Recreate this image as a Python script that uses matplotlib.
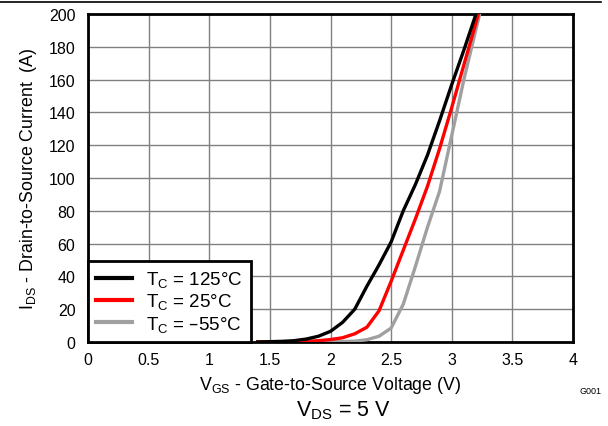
import numpy as np
import matplotlib
matplotlib.use("Agg")
import matplotlib.pyplot as plt
from matplotlib.lines import Line2D

plt.rcParams['font.family'] = ['Liberation Sans', 'DejaVu Sans']
plt.rcParams['mathtext.default'] = 'regular'

# Transfer characteristics, VDS = 5 V
vgs_125 = [1.4, 1.5, 1.6, 1.7, 1.8, 1.9, 2.0, 2.1, 2.2, 2.3, 2.4, 2.5, 2.6, 2.7, 2.8, 2.9, 3.0, 3.1, 3.2]
ids_125 = [0, 0.2, 0.4, 0.8, 1.8, 3.5, 6.5, 12, 20, 34, 47, 61, 80, 96, 114, 135, 157, 178, 200]

vgs_25 = [1.4, 1.6, 1.7, 1.8, 1.9, 2.0, 2.1, 2.2, 2.3, 2.4, 2.5, 2.6, 2.7, 2.8, 2.9, 3.0, 3.1, 3.22]
ids_25 = [0, 0.1, 0.2, 0.4, 0.8, 1.5, 2.6, 5, 9, 19, 37, 56, 75, 95, 118, 143, 169, 200]

vgs_m55 = [1.4, 1.9, 2.0, 2.1, 2.2, 2.3, 2.4, 2.5, 2.6, 2.7, 2.8, 2.9, 3.0, 3.1, 3.23]
ids_m55 = [0, 0.1, 0.2, 0.3, 0.5, 1.4, 3.5, 8.5, 23, 46, 70, 92, 126, 160, 200]

labels = [r'$T_C$ = 125°C', r'$T_C$ = 25°C', r'$T_C$ = –55°C']
colors = ['black', 'red', '#a0a0a0']

fig = plt.figure(figsize=(6.08, 4.27), dpi=100)
ax = fig.add_axes([88/608, 1 - 343/427, 485/608, 328/427])

ax.plot(vgs_m55, ids_m55, color=colors[2], lw=2.4, label=labels[2], zorder=3)
ax.plot(vgs_25, ids_25, color=colors[1], lw=2.4, label=labels[1], zorder=4)
ax.plot(vgs_125, ids_125, color=colors[0], lw=2.4, label=labels[0], zorder=5)

ax.set_xlim(0, 4)
ax.set_ylim(0, 200)
ax.set_xticks(np.arange(0, 4.01, 0.5))
ax.set_xticklabels(['0', '0.5', '1', '1.5', '2', '2.5', '3', '3.5', '4'])
ax.set_yticks(np.arange(0, 201, 20))
ax.tick_params(length=0, labelsize=11.5, pad=7)
ax.tick_params(axis='y', pad=9)
ax.grid(True, color='#808080', lw=1)
ax.set_axisbelow(True)
for s in ax.spines.values():
    s.set_linewidth(2)

ax.set_xlabel(r'$V_{GS}$ - Gate-to-Source Voltage (V)', fontsize=12.8, labelpad=5)
ax.set_ylabel(r'$I_{DS}$ - Drain-to-Source Current  (A)', fontsize=12.8, labelpad=7)

handles, labs = ax.get_legend_handles_labels()
order = [2, 1, 0]
leg = ax.legend([handles[i] for i in order], [labs[i] for i in order],
                loc='lower left', bbox_to_anchor=(0, 0), fontsize=13.5,
                fancybox=False, framealpha=1, edgecolor='black',
                handlelength=1.9, handletextpad=0.75, borderpad=0.45,
                labelspacing=0.12, borderaxespad=0)
leg.get_frame().set_linewidth(2)
for h in leg.get_lines():
    h.set_linewidth(3)

fig.text(343/608, 1 - 411/427, r'$V_{DS}$ = 5 V', fontsize=15.5, ha='center', va='center')
fig.text(590/608, 1 - 392/427, 'G001', fontsize=6.5, ha='center', va='center')
fig.add_artist(Line2D([0, 601/608], [1 - 2.5/427, 1 - 2.5/427], color='black', lw=1.2))

fig.savefig('out.png', dpi=100)
